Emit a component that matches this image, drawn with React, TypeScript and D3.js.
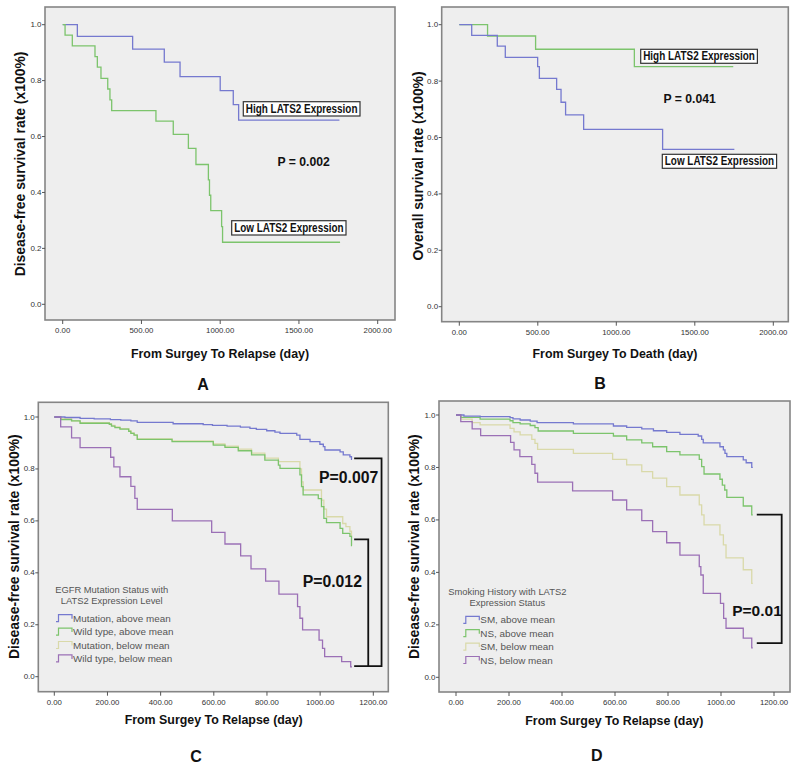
import React from 'react';
import * as d3 from 'd3';

// ---------- DATA (time in days, survival proportion) ----------
const aHigh: [number, number][] = [[0,1],[93,0.958],[444,0.913],[645,0.866],[745,0.814],[1000,0.764],[1083,0.714],[1117,0.659],[1757,0.659]];
const aLow: [number, number][] = [[0,1],[15,0.963],[61,0.924],[205,0.886],[220,0.848],[243,0.808],[286,0.77],[300,0.731],[311,0.693],[592,0.655],[702,0.608],[798,0.558],[846,0.5],[925,0.445],[932,0.39],[940,0.335],[1009,0.278],[1015,0.222],[1761,0.222]];

const bHigh: [number, number][] = [[0,1],[180,0.96],[486,0.913],[1115,0.851],[1745,0.851]];
const bLow: [number, number][] = [[0,1],[79,0.962],[242,0.924],[293,0.884],[499,0.851],[510,0.81],[620,0.771],[648,0.725],[677,0.68],[792,0.629],[1295,0.558],[1752,0.558]];

const cMutAbove: [number, number][] = [[0,1],[40,0.998],[97,0.995],[150,0.993],[211,0.99],[250,0.988],[288,0.985],[312,0.979],[447,0.974],[560,0.971],[595,0.968],[650,0.965],[700,0.961],[736,0.956],[760,0.952],[799,0.947],[830,0.942],[849,0.937],[912,0.93],[924,0.914],[962,0.905],[999,0.895],[1012,0.886],[1018,0.873],[1075,0.866],[1087,0.854],[1112,0.847],[1118,0.837],[1120,0.837]];
const cWildAbove: [number, number][] = [[0,1],[24,0.99],[65,0.985],[97,0.976],[207,0.972],[215,0.965],[228,0.959],[247,0.953],[280,0.945],[288,0.937],[300,0.93],[312,0.914],[443,0.905],[598,0.892],[642,0.883],[692,0.87],[742,0.854],[792,0.834],[843,0.815],[849,0.802],[924,0.777],[930,0.732],[936,0.7],[993,0.686],[1005,0.655],[1014,0.61],[1024,0.593],[1075,0.571],[1085,0.552],[1112,0.54],[1118,0.505],[1120,0.505]];
const cMutBelow: [number, number][] = [[0,1],[24,0.995],[65,0.985],[97,0.978],[207,0.974],[215,0.968],[228,0.962],[247,0.955],[280,0.947],[288,0.939],[300,0.931],[312,0.916],[443,0.908],[598,0.896],[642,0.888],[692,0.876],[742,0.861],[792,0.842],[843,0.828],[924,0.8],[930,0.75],[936,0.719],[1005,0.68],[1014,0.645],[1024,0.616],[1085,0.59],[1097,0.578],[1112,0.56],[1118,0.54],[1120,0.54]];
const cWildBelow: [number, number][] = [[0,1],[24,0.962],[65,0.92],[97,0.882],[212,0.845],[224,0.808],[247,0.77],[288,0.733],[303,0.687],[312,0.644],[444,0.6],[592,0.556],[642,0.511],[701,0.465],[740,0.415],[795,0.368],[845,0.318],[915,0.27],[924,0.225],[934,0.18],[996,0.141],[1009,0.109],[1017,0.077],[1081,0.058],[1115,0.038],[1120,0.038]];

const dSmAbove: [number, number][] = [[0,1],[30,0.996],[91,0.994],[204,0.99],[215,0.985],[242,0.981],[280,0.977],[306,0.971],[443,0.966],[594,0.958],[644,0.953],[701,0.947],[745,0.94],[795,0.934],[845,0.926],[914,0.92],[927,0.907],[933,0.894],[996,0.879],[1009,0.867],[1015,0.854],[1022,0.841],[1084,0.829],[1095,0.818],[1116,0.8],[1120,0.8]];
const dNsAbove: [number, number][] = [[0,1],[18,0.991],[91,0.984],[204,0.978],[215,0.971],[242,0.966],[280,0.96],[298,0.952],[310,0.939],[443,0.93],[594,0.92],[644,0.905],[701,0.894],[742,0.879],[795,0.86],[845,0.848],[918,0.831],[927,0.803],[936,0.775],[996,0.755],[1005,0.733],[1014,0.714],[1022,0.686],[1084,0.653],[1116,0.619],[1120,0.619]];
const dSmBelow: [number, number][] = [[0,1],[18,0.984],[61,0.971],[91,0.962],[204,0.949],[219,0.936],[242,0.924],[286,0.907],[298,0.892],[308,0.869],[443,0.854],[591,0.831],[644,0.81],[701,0.784],[742,0.759],[795,0.727],[845,0.695],[918,0.657],[927,0.619],[936,0.581],[996,0.543],[1009,0.505],[1019,0.455],[1084,0.41],[1116,0.358],[1120,0.358]];
const dNsBelow: [number, number][] = [[0,1],[18,0.975],[61,0.947],[93,0.921],[206,0.896],[219,0.867],[241,0.841],[286,0.812],[298,0.778],[308,0.744],[440,0.711],[591,0.676],[644,0.638],[701,0.597],[742,0.555],[795,0.513],[845,0.466],[918,0.422],[924,0.39],[933,0.32],[998,0.282],[1010,0.225],[1019,0.187],[1084,0.149],[1116,0.112],[1120,0.112]];

const xTicksAB = [0, 500, 1000, 1500, 2000];
const xTicksCD = [0, 200, 400, 600, 800, 1000, 1200];
const yTicks = [0, 0.2, 0.4, 0.6, 0.8, 1.0];

const legendTitleC = ['EGFR Mutation Status with', 'LATS2 Expression Level'];
const legendTitleD = ['Smoking History with LATS2', 'Expression Status'];
const legendC = ['Mutation, above mean', 'Wild type, above mean', 'Mutation, below mean', 'Wild type, below mean'];
const legendD = ['SM, above mean', 'NS, above mean', 'SM, below mean', 'NS, below mean'];

// ---------- STYLE ----------
const BLUE = '#7579cf';
const GREEN = '#7cc46c';
const TAN = '#d9d9a9';
const PURPLE = '#9b70b6';
const BG = '#eeeeee';
const FRAME = '#858585';
const FONT = 'Liberation Sans, Arial, sans-serif';

type Cfg = {
  frame: [number, number, number, number];
  xDomain: [number, number];
  xRange: [number, number];
  yRange: [number, number];
  xTicks: number[];
  series: { data: [number, number][]; color: string }[];
};

function Panel({ cfg, children }: { cfg: Cfg; children?: (x: d3.ScaleLinear<number, number>, y: d3.ScaleLinear<number, number>) => React.ReactNode }) {
  const x = d3.scaleLinear().domain(cfg.xDomain).range(cfg.xRange);
  const y = d3.scaleLinear().domain([0, 1]).range(cfg.yRange);
  const [fx0, fy0, fx1, fy1] = cfg.frame;
  const line = d3.line<[number, number]>().x(d => x(d[0])).y(d => y(d[1])).curve(d3.curveStepAfter);
  const fx = d3.format('.2f');
  const fy = d3.format('.1f');
  return (
    <g>
      <rect x={fx0} y={fy0} width={fx1 - fx0} height={fy1 - fy0} fill={BG} stroke={FRAME} strokeWidth={1.6} />
      {yTicks.map(t => (
        <g key={'y' + t}>
          <line x1={fx0 - 3} x2={fx0} y1={y(t)} y2={y(t)} stroke="#555" strokeWidth={1} />
          <text x={fx0 - 3.5} y={y(t)} textAnchor="end" dominantBaseline="central" fontSize={8} fill="#333" fontFamily={FONT}>{fy(t)}</text>
        </g>
      ))}
      {cfg.xTicks.map(t => (
        <g key={'x' + t}>
          <line x1={x(t)} x2={x(t)} y1={fy1} y2={fy1 + 4} stroke="#555" strokeWidth={1} />
          <text x={x(t)} y={fy1 + 13} textAnchor="middle" fontSize={7.8} fill="#333" fontFamily={FONT}>{fx(t)}</text>
        </g>
      ))}
      {cfg.series.map((s, i) => (
        <path key={i} d={line(s.data) || ''} fill="none" stroke={s.color} strokeWidth={1.3} />
      ))}
      {children ? children(x, y) : null}
    </g>
  );
}

function BoxLabel({ x, y, w, h, text }: { x: number; y: number; w: number; h: number; text: string }) {
  return (
    <g>
      <rect x={x} y={y} width={w} height={h} fill="#ffffff" stroke="#333" strokeWidth={1.2} />
      <text x={x + 2.5} y={y + h - 3.5} fontSize={12.3} fontWeight="bold" fontFamily={FONT} fill="#111" textLength={w - 5} lengthAdjust="spacingAndGlyphs">{text}</text>
    </g>
  );
}

export default function App() {
  const cfgA: Cfg = { frame: [45, 7, 395, 320], xDomain: [0, 2000], xRange: [62.7, 377.7], yRange: [304.3, 24.7], xTicks: xTicksAB,
    series: [{ data: aHigh, color: BLUE }, { data: aLow, color: GREEN }] };
  const cfgB: Cfg = { frame: [441.7, 7, 788.3, 321.7], xDomain: [0, 2000], xRange: [459.3, 773.3], yRange: [306.7, 24.7], xTicks: xTicksAB,
    series: [{ data: bHigh, color: GREEN }, { data: bLow, color: BLUE }] };
  const cfgC: Cfg = { frame: [38.3, 402.3, 388.3, 691.7], xDomain: [0, 1200], xRange: [54.3, 373.3], yRange: [676.7, 417], xTicks: xTicksCD,
    series: [{ data: cMutBelow, color: TAN }, { data: cWildAbove, color: GREEN }, { data: cMutAbove, color: BLUE }, { data: cWildBelow, color: PURPLE }] };
  const cfgD: Cfg = { frame: [439, 401, 790, 692], xDomain: [0, 1200], xRange: [456, 774], yRange: [677.3, 415], xTicks: xTicksCD,
    series: [{ data: dSmBelow, color: TAN }, { data: dNsAbove, color: GREEN }, { data: dSmAbove, color: BLUE }, { data: dNsBelow, color: PURPLE }] };

  const colorsLeg = [BLUE, GREEN, TAN, PURPLE];
  const legend = (cx: number, ty: number, title: string[], x0: number, yb: number, items: string[]) => (
    <g>
      {title.map((t, i) => (
        <text key={t} x={cx} y={ty + i * 10.5} textAnchor="middle" fontSize={9.4} fill="#555" fontFamily={FONT}>{t}</text>
      ))}
      {items.map((t, i) => {
        const yy = yb + i * 13.4;
        return (
          <g key={t}>
            <path d={`M${x0},${yy} H${x0 + 2.5} V${yy - 7} H${x0 + 16} V${yy - 3}`} fill="none" stroke={colorsLeg[i]} strokeWidth={1.2} />
            <text x={x0 + 17} y={yy} fontSize={9.9} fill="#555" fontFamily={FONT}>{t}</text>
          </g>
        );
      })}
    </g>
  );

  const bold = { fontFamily: FONT, fontWeight: 'bold' as const, fill: '#111' };

  return (
    <svg width={800} height={769} style={{ position: 'absolute', left: 0, top: 0, background: '#fff' }}>
      <rect x={0} y={0} width={800} height={769} fill="#fff" />
      {/* Panel A */}
      <Panel cfg={cfgA} />
      <BoxLabel x={243.3} y={101.7} w={116.7} h={14.3} text="High LATS2 Expression" />
      <BoxLabel x={231.7} y={220.7} w={114.3} h={14.3} text="Low LATS2 Expression" />
      <text x={303.7} y={165.7} textAnchor="middle" fontSize={12.2} {...bold}>P = 0.002</text>
      <text transform="translate(20,164) rotate(-90)" textAnchor="middle" dominantBaseline="central" fontSize={13.9} {...bold}>Disease-free survival rate (x100%)</text>
      <text x={220} y={357.5} textAnchor="middle" fontSize={12.4} {...bold}>From Surgey To Relapse (day)</text>
      <text x={203} y={390} textAnchor="middle" fontSize={16} {...bold}>A</text>

      {/* Panel B */}
      <Panel cfg={cfgB} />
      <BoxLabel x={640.7} y={49.3} w={116.7} h={14} text="High LATS2 Expression" />
      <BoxLabel x={662.3} y={154.3} w={114.3} h={14} text="Low LATS2 Expression" />
      <text x={689.7} y={103.3} textAnchor="middle" fontSize={12.2} {...bold}>P = 0.041</text>
      <text transform="translate(418.3,166) rotate(-90)" textAnchor="middle" dominantBaseline="central" fontSize={13.9} {...bold}>Overall survival rate (x100%)</text>
      <text x={615} y={357.5} textAnchor="middle" fontSize={12.4} {...bold}>From Surgey To Death (day)</text>
      <text x={600} y={389.3} textAnchor="middle" fontSize={16} {...bold}>B</text>

      {/* Panel C */}
      <Panel cfg={cfgC}>
        {(x, y) => (
          <g stroke="#111" strokeWidth={1.8} fill="none">
            <path d={`M${x(1128)},${y(0.841)} H${x(1231)} V${y(0.041)} H${x(1128)}`} />
            <path d={`M${x(1128)},${y(0.529)} H${x(1181)} V${y(0.041)}`} />
          </g>
        )}
      </Panel>
      <text x={348.7} y={483.3} textAnchor="middle" fontSize={15.8} {...bold}>P=0.007</text>
      <text x={332.3} y={586.7} textAnchor="middle" fontSize={15.8} {...bold}>P=0.012</text>
      {legend(111.7, 593, legendTitleC, 56, 621.7, legendC)}
      <text transform="translate(14,546.7) rotate(-90)" textAnchor="middle" dominantBaseline="central" fontSize={13.9} {...bold}>Disease-free survival rate (x100%)</text>
      <text x={213.7} y={724.3} textAnchor="middle" fontSize={12.4} {...bold}>From Surgey To Relapse (day)</text>
      <text x={196} y={761.5} textAnchor="middle" fontSize={16} {...bold}>C</text>

      {/* Panel D */}
      <Panel cfg={cfgD}>
        {(x, y) => (
          <g stroke="#111" strokeWidth={1.8} fill="none">
            <path d={`M${x(1135)},${y(0.62)} H${x(1229)} V${y(0.13)} H${x(1135)}`} />
          </g>
        )}
      </Panel>
      <text x={757} y={616} textAnchor="middle" fontSize={15.5} {...bold}>P=0.01</text>
      {legend(507.3, 595, legendTitleD, 463.3, 623.3, legendD)}
      <text transform="translate(414,546.7) rotate(-90)" textAnchor="middle" dominantBaseline="central" fontSize={13.9} {...bold}>Disease-free survival rate (x100%)</text>
      <text x={614.3} y={725} textAnchor="middle" fontSize={12.4} {...bold}>From Surgey To Relapse (day)</text>
      <text x={596.7} y={760.7} textAnchor="middle" fontSize={16} {...bold}>D</text>
    </svg>
  );
}
